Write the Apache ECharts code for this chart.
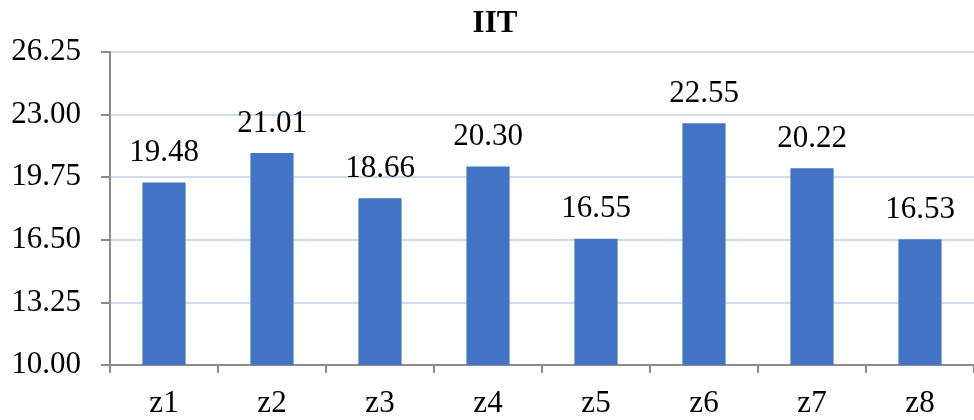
<!DOCTYPE html>
<html>
<head>
<meta charset="utf-8">
<script src="https://cdn.jsdelivr.net/npm/echarts@6/dist/echarts.min.js"></script>
<style>
  html, body { margin: 0; padding: 0; background: #fff; }
  #chart { width: 974px; height: 420px; }
</style>
</head>
<body>
<div id="chart"></div>
<script>
// Chart data
const chartTitle = 'IIT';
const categories = ['z1', 'z2', 'z3', 'z4', 'z5', 'z6', 'z7', 'z8'];
const values = [19.48, 21.01, 18.66, 20.30, 16.55, 22.55, 20.22, 16.53];
const yMin = 10;
const yMax = 26.25;
const yStep = 3.25;

const font = '"Liberation Serif", "Times New Roman", serif';
const chart = echarts.init(document.getElementById('chart'), null, { renderer: 'canvas' });

chart.setOption({
  animation: false,
  title: {
    text: chartTitle,
    left: 490,
    textAlign: 'center',
    top: 3,
    textStyle: { fontFamily: font, fontSize: 31, fontWeight: 'bold', color: '#000' }
  },
  grid: { left: 110, right: -7, top: 52, bottom: 55, containLabel: false },
  xAxis: {
    type: 'category',
    data: categories,
    axisLine: { lineStyle: { color: '#8c8c8c', width: 2 } },
    axisTick: { show: true, length: 8, alignWithLabel: false, lineStyle: { color: '#8c8c8c', width: 2 } },
    axisLabel: { fontFamily: font, fontSize: 31, color: '#000', margin: 23 }
  },
  yAxis: {
    type: 'value',
    min: yMin,
    max: yMax,
    interval: yStep,
    axisLine: { show: true, lineStyle: { color: '#8c8c8c', width: 2 } },
    axisTick: { show: true, length: 9, lineStyle: { color: '#8c8c8c', width: 2 } },
    axisLabel: {
      fontFamily: font, fontSize: 31, color: '#000', margin: 29,
      formatter: v => v.toFixed(2)
    },
    splitLine: { lineStyle: { color: '#d0dcec', width: 2 } }
  },
  series: [{
    type: 'bar',
    data: values,
    barWidth: '40%',
    itemStyle: { color: '#4472C4' },
    label: {
      show: true,
      position: 'top',
      distance: 14,
      fontFamily: font,
      fontSize: 31,
      color: '#000',
      formatter: p => p.value.toFixed(2)
    }
  }]
});
</script>
</body>
</html>
